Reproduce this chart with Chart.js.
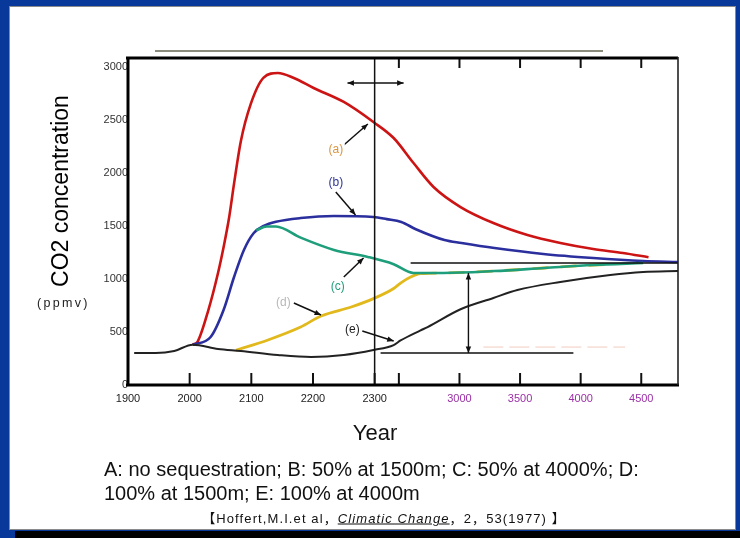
<!DOCTYPE html>
<html>
<head>
<meta charset="utf-8">
<script src="https://cdn.jsdelivr.net/npm/chart.js@4.4.1/dist/chart.umd.min.js"></script>
<style>
  html, body { margin: 0; padding: 0; }
  body { width: 740px; height: 538px; background: #07389a; position: relative; overflow: hidden;
         font-family: Arial, "Liberation Sans", sans-serif; }
  #panel { position: absolute; left: 9px; top: 6px; width: 725px; height: 522px; background: #fff;
           border: 1px solid #8a8a8a; }
  #shadow { position: absolute; left: 15px; top: 531px; width: 725px; height: 7px; background: #000; }
  #topline { position: absolute; left: 155px; top: 50px; width: 448px; height: 2px; background: #8c8c7c; }
  canvas { position: absolute; left: 0; top: 0; }
  .t { position: absolute; white-space: nowrap; color: #000; }
  #ytitle { left: 60px; top: 191px; font-size: 23px; transform: translate(-50%, -50%) rotate(-90deg); }
  #unit { left: 37px; top: 296px; font-size: 12.5px; letter-spacing: 2.3px; color: #222; }
  #xtitle { left: 375px; top: 433px; font-size: 22px; transform: translate(-50%, -50%); color: #111; }
  #cap1 { left: 104px; top: 458px; font-size: 20px; color: #111; }
  #cap2 { left: 104px; top: 482px; font-size: 20px; color: #111; }
  #cite { left: 384px; top: 517px; font-size: 13px; letter-spacing: 1.1px; transform: translate(-50%, -50%); color: #111;
          font-family: Arial, "Liberation Sans", "Noto Sans CJK SC", sans-serif; }
  #cite i { text-decoration: underline; }
</style>
</head>
<body>
<div id="panel"></div>
<div id="shadow"></div>
<div id="topline"></div>
<canvas id="co2Chart" width="740" height="538"></canvas>
<div class="t" id="ytitle">CO2 concentration</div>
<div class="t" id="unit">(ppmv)</div>
<div class="t" id="xtitle">Year</div>
<div class="t" id="cap1">A: no sequestration; B: 50% at 1500m; C: 50% at 4000%; D:</div>
<div class="t" id="cap2">100% at 1500m; E: 100% at 4000m</div>
<div class="t" id="cite">【Hoffert,M.I.et al，<i>Climatic Change</i>，2，53(1977) 】</div>
<script>
// tick labels on the broken year axis
const tickYears = [1900, 2000, 2100, 2200, 2300, 2500, 3000, 3500, 4000, 4500];
const tickLabels = ["1900", "2000", "2100", "2200", "2300", "", "3000", "3500", "4000", "4500"];
const yTicks = [0, 500, 1000, 1500, 2000, 2500, 3000];

// (a) no sequestration
const yearsA = [2005, 2013, 2030, 2046, 2055, 2064, 2072, 2083, 2099, 2120, 2143, 2169, 2201, 2250, 2298, 2457, 2621, 2786, 3009, 3280, 3561, 3833, 4104, 4350, 4560];
const valuesA = [380, 410, 700, 1057, 1300, 1580, 1900, 2300, 2650, 2900, 2943, 2896, 2802, 2670, 2481, 2330, 2094, 1868, 1679, 1528, 1415, 1340, 1283, 1245, 1205];
// (b) 50% at 1500m
const yearsB = [2005, 2034, 2055, 2072, 2088, 2104, 2120, 2140, 2180, 2234, 2298, 2400, 2520, 2640, 2877, 3017, 3289, 3692, 4104, 4516, 4810];
const valuesB = [380, 453, 708, 1019, 1274, 1434, 1500, 1540, 1575, 1594, 1585, 1565, 1538, 1470, 1368, 1340, 1292, 1236, 1198, 1170, 1160];
// (c) 50% at 4000m
const yearsC = [2108, 2125, 2140, 2180, 2234, 2289, 2457, 2621, 2868, 3289, 3700, 4104, 4516];
const valuesC = [1460, 1495, 1495, 1390, 1274, 1208, 1140, 1057, 1057, 1075, 1104, 1132, 1151];
// (d) 100% at 1500m
const yearsD = [2075, 2127, 2180, 2213, 2262, 2298, 2457, 2514, 2597, 2680, 2868, 3289, 3700, 4104, 4245];
const valuesD = [328, 425, 547, 651, 736, 815, 910, 962, 1019, 1050, 1057, 1075, 1104, 1132, 1139];
// (e) 100% at 4000m
const yearsE = [1910, 1945, 1975, 2005, 2046, 2083, 2143, 2197, 2250, 2298, 2457, 2514, 2679, 2737, 3009, 3280, 3478, 3832, 4244, 4516, 4810];
const valuesE = [302, 302, 321, 380, 340, 321, 283, 264, 283, 330, 377, 420, 515, 547, 715, 821, 896, 972, 1038, 1066, 1075];

// 1900-2300 at 100 yr per unit, then compressed
function yearToPos(y) {
  return y <= 2300 ? (y - 1900) / 100 : 4 + (y - 2300) / 2200 * 4.324;
}
function pts(years, vals) {
  return years.map((y, i) => ({ x: yearToPos(y), y: vals[i] }));
}

function line(label, years, vals, color, extra) {
  return Object.assign({
    label: label,
    data: pts(years, vals),
    borderColor: color,
    borderWidth: 2.6,
    pointRadius: 0,
    fill: false,
    cubicInterpolationMode: "monotone"
  }, extra || {});
}

function arrowHead(ctx, x1, y1, x2, y2, size) {
  const a = Math.atan2(y2 - y1, x2 - x1);
  ctx.beginPath();
  ctx.moveTo(x2, y2);
  ctx.lineTo(x2 - size * Math.cos(a - 0.4), y2 - size * Math.sin(a - 0.4));
  ctx.lineTo(x2 - size * Math.cos(a + 0.4), y2 - size * Math.sin(a + 0.4));
  ctx.closePath();
  ctx.fill();
}

function arrow(ctx, x1, y1, x2, y2, both) {
  ctx.beginPath();
  ctx.moveTo(x1, y1);
  ctx.lineTo(x2, y2);
  ctx.stroke();
  arrowHead(ctx, x1, y1, x2, y2, 7);
  if (both) arrowHead(ctx, x2, y2, x1, y1, 7);
}

const decorations = {
  id: "decorations",
  afterDatasetsDraw(chart) {
    const ctx = chart.ctx;
    const a = chart.chartArea;
    const xs = chart.scales.x, ys = chart.scales.y;
    const X = yr => xs.getPixelForValue(yearToPos(yr));
    const Y = v => ys.getPixelForValue(v);
    ctx.save();
    ctx.strokeStyle = "#111";
    ctx.fillStyle = "#111";

    // divider at 2300
    ctx.lineWidth = 1.5;
    ctx.beginPath();
    ctx.moveTo(X(2300), a.top);
    ctx.lineTo(X(2300), a.bottom);
    ctx.stroke();

    // tick marks
    ctx.lineWidth = 2;
    tickYears.forEach(yr => {
      if (yr === 1900) return;
      const x = X(yr);
      ctx.beginPath();
      ctx.moveTo(x, a.bottom);
      ctx.lineTo(x, a.bottom - 12);
      ctx.stroke();
      if (yr >= 2500) {
        ctx.beginPath();
        ctx.moveTo(x, a.top);
        ctx.lineTo(x, a.top + 10);
        ctx.stroke();
      }
    });

    // guide lines and arrows
    ctx.lineWidth = 1.4;
    arrow(ctx, X(2256), Y(2849), X(2539), Y(2849), true);
    ctx.beginPath();
    ctx.moveTo(X(2597), Y(1151));
    ctx.lineTo(a.right, Y(1151));
    ctx.moveTo(X(2349), Y(302));
    ctx.lineTo(X(3940), Y(302));
    ctx.stroke();
    arrow(ctx, X(3074), Y(1057), X(3074), Y(302), true);

    ctx.strokeStyle = "#f2cdbf";
    ctx.setLineDash([20, 6]);
    ctx.lineWidth = 1;
    ctx.beginPath();
    ctx.moveTo(X(3197), Y(358));
    ctx.lineTo(X(4367), Y(358));
    ctx.stroke();
    ctx.setLineDash([]);

    // curve labels with pointers
    ctx.strokeStyle = "#111";
    ctx.lineWidth = 1.5;
    arrow(ctx, X(2250), Y(2264), X(2289), Y(2462));
    arrow(ctx, X(2237), Y(1821), X(2269), Y(1604));
    arrow(ctx, X(2250), Y(1019), X(2282), Y(1198));
    arrow(ctx, X(2169), Y(774), X(2213), Y(660));
    arrow(ctx, X(2280), Y(509), X(2457), Y(415));

    ctx.font = "12px Arial, 'Liberation Sans', sans-serif";
    ctx.textAlign = "center";
    ctx.textBaseline = "middle";
    const labels = [
      ["(a)", 2237, 2217, "#d9953f"],
      ["(b)", 2237, 1906, "#2e3596"],
      ["(c)", 2240, 925, "#1f9e7c"],
      ["(d)", 2152, 774, "#b8b8b8"],
      ["(e)", 2264, 519, "#222"]
    ];
    labels.forEach(l => {
      const tx = X(l[1]), ty = Y(l[2]);
      ctx.fillStyle = "#fff";
      ctx.fillRect(tx - 9, ty - 7, 18, 14);
      ctx.fillStyle = l[3];
      ctx.fillText(l[0], tx, ty);
    });

    // frame
    ctx.strokeStyle = "#000";
    ctx.lineWidth = 3;
    ctx.beginPath();
    ctx.moveTo(a.left - 2, a.top);
    ctx.lineTo(a.right, a.top);
    ctx.moveTo(a.left, a.top);
    ctx.lineTo(a.left, a.bottom);
    ctx.moveTo(a.left - 2, a.bottom);
    ctx.lineTo(a.right + 1, a.bottom);
    ctx.stroke();
    ctx.lineWidth = 1.6;
    ctx.strokeStyle = "#222";
    ctx.beginPath();
    ctx.moveTo(a.right, a.top - 1);
    ctx.lineTo(a.right, a.bottom);
    ctx.stroke();
    ctx.restore();
  }
};

const dashFrom = yearToPos(2640);

new Chart("co2Chart", {
  type: "line",
  data: {
    datasets: [
      line("(e)", yearsE, valuesE, "#222222", { borderWidth: 2 }),
      line("(c)", yearsC, valuesC, "#1f9e7c"),
      line("(d)", yearsD, valuesD, "#e2b91c", {
        borderWidth: 2.8,
        segment: { borderDash: ctx => ctx.p0.parsed.x >= dashFrom ? [16, 12] : undefined }
      }),
      line("(b)", yearsB, valuesB, "#2b2f9e"),
      line("(a)", yearsA, valuesA, "#cc1414")
    ]
  },
  options: {
    responsive: false,
    animation: false,
    layout: { padding: { left: 0, right: 62, top: 58, bottom: 131 } },
    plugins: { legend: { display: false }, tooltip: { enabled: false } },
    scales: {
      x: {
        type: "linear",
        min: 0,
        max: 8.92,
        grid: { display: false, drawTicks: false },
        border: { display: false },
        afterBuildTicks: scale => { scale.ticks = tickYears.map(y => ({ value: yearToPos(y) })); },
        afterFit: scale => { scale.height = 22; },
        ticks: {
          autoSkip: false,
          maxRotation: 0,
          padding: 7,
          font: { family: "Arial, 'Liberation Sans', sans-serif", size: 11 },
          color: ctx => (ctx.index >= 6 ? "#9b2fa6" : "#222"),
          callback: (v, i) => tickLabels[i]
        }
      },
      y: {
        min: 0,
        max: 3085,
        grid: { display: false, drawTicks: false },
        border: { display: false },
        afterBuildTicks: scale => { scale.ticks = yTicks.map(v => ({ value: v })); },
        afterFit: scale => { scale.width = 128; },
        ticks: {
          padding: 0,
          font: { family: "Arial, 'Liberation Sans', sans-serif", size: 11 },
          color: "#333",
          callback: v => String(v)
        }
      }
    }
  },
  plugins: [decorations]
});
</script>
</body>
</html>
